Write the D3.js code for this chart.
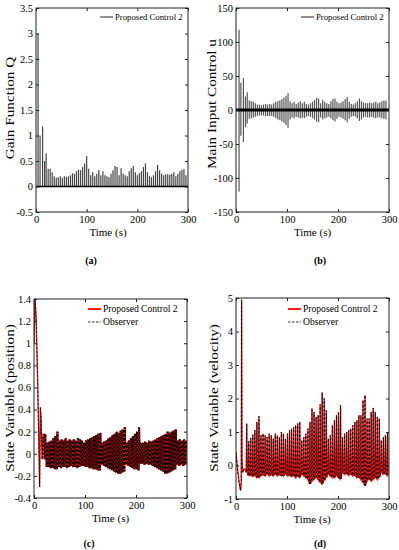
<!DOCTYPE html>
<html><head><meta charset="utf-8">
<script src="https://cdn.jsdelivr.net/npm/d3@7"></script>
<style>
body{margin:0;background:#fff}
text{font-family:"Liberation Serif","DejaVu Serif",serif;fill:#000}
</style>
</head><body>
<svg id="chart" width="399" height="550"></svg>
<script>
// ---------- data ----------
const xTicks = [0, 100, 200, 300];
const yTicksA = [-0.5, 0, 0.5, 1, 1.5, 2, 2.5, 3, 3.5];
const yTicksB = [-150, -100, -50, 0, 50, 100, 150];
const yTicksC = [-0.4, -0.2, 0, 0.2, 0.4, 0.6, 0.8, 1, 1.2, 1.4];
const yTicksD = [-1, 0, 1, 2, 3, 4, 5];

// (a) gain function Q: pulse peaks
const qEarlyT = [4, 8, 13, 17, 20];
const qEarlyV = [3.0, 1.0, 1.18, 0.5, 0.65];
const qStart = 24, qStep = 4;
const qVals = [0.35,0.35,0.28,0.2,0.17,0.18,0.2,0.17,0.2,0.19,
  0.2,0.22,0.26,0.25,0.3,0.33,0.32,0.38,0.45,0.6,
  0.35,0.22,0.28,0.2,0.25,0.32,0.22,0.3,0.22,0.2,
  0.18,0.25,0.32,0.4,0.38,0.22,0.36,0.25,0.22,0.2,
  0.3,0.36,0.4,0.28,0.22,0.26,0.3,0.38,0.45,0.28,
  0.2,0.18,0.22,0.3,0.42,0.32,0.25,0.22,0.24,0.24,
  0.23,0.25,0.28,0.2,0.25,0.3,0.33,0.34,0.22];

// (b) main input control u: pulse upper / lower extremes
const uEarlyT = [6, 9.5, 14.5, 18.5, 22];
const uEarlyUp = [118, 40, 47, 20, 26];
const uEarlyLo = [-120, -38, -47, -25, -20];
const uStart = 26, uStep = 4;
const uUp = [14,13,12,10,8,8,7,8,9,8, 9,8,10,12,13,14,16,18,21,25,
  13,10,12,9,11,13,10,12,9,8, 10,12,15,18,17,10,15,12,10,9,
  13,16,17,12,10,11,13,16,19,12, 9,8,10,13,17,13,11,10,10,11,
  10,11,12,10,11,13,14,14];
const uLo = [-13,-12,-11,-10,-9,-8,-8,-8,-9,-9, -9,-9,-10,-12,-14,-15,-17,-19,-22,-26,
  -14,-11,-12,-10,-11,-12,-11,-12,-10,-9, -10,-12,-14,-17,-18,-11,-14,-12,-11,-10,
  -12,-15,-17,-13,-10,-11,-13,-15,-18,-13, -10,-9,-10,-12,-16,-14,-11,-10,-11,-11,
  -10,-11,-12,-11,-11,-12,-13,-14];

// (c) position: early transient + oscillation envelope (upper / lower)
const cEarlyT = [0, 2, 4, 7, 9.5, 11, 12.5, 14, 16, 18];
const cEarlyV = [1.0, 1.4, 1.25, 0.7, 0.1, -0.3, 0.42, 0.3, -0.05, 0.18];
const cStart = 20, cStep = 4;
const cUp = [0.18,0.10,0.11,0.12,0.14,0.16,0.2,
  0.12,0.13,0.12,0.14,0.12,0.13,0.12,0.13,0.12,0.14,0.13,0.12,
  0.1,0.12,0.13,0.14,0.15,0.16,0.17,0.18,0.19,
  0.1,0.11,0.12,0.14,0.15,0.17,0.18,0.2,0.19,0.21,0.22,0.24,
  0.1,0.12,0.14,0.16,0.18,0.2,0.24,
  0.1,0.1,0.11,0.1,0.12,0.11,0.12,0.13,
  0.14,0.15,0.16,0.17,0.18,0.2,0.19,0.2,0.21,0.22,
  0.12,0.13,0.12,0.13,0.12];
const cLo = [-0.05,-0.12,-0.12,-0.13,-0.13,-0.14,-0.14,
  -0.12,-0.13,-0.12,-0.12,-0.13,-0.12,-0.11,-0.12,-0.12,-0.13,-0.12,-0.11,
  -0.11,-0.12,-0.12,-0.13,-0.13,-0.14,-0.14,-0.15,-0.15,
  -0.1,-0.11,-0.12,-0.13,-0.14,-0.15,-0.16,-0.17,-0.18,-0.18,-0.17,-0.16,
  -0.1,-0.11,-0.12,-0.13,-0.14,-0.14,-0.15,
  -0.09,-0.09,-0.1,-0.09,-0.1,-0.1,-0.11,-0.12,
  -0.13,-0.14,-0.15,-0.16,-0.18,-0.18,-0.17,-0.16,-0.15,-0.14,
  -0.1,-0.11,-0.1,-0.11,-0.1];

// (d) velocity: early transient + spike peaks / troughs
const dEarlyT = [0, 3, 6, 9, 10.3, 11, 11.7, 13, 16, 19];
const dEarlyV = [0.4, -0.1, -0.5, -0.75, -0.5, 4.95, 0.2, -0.2, -0.1, -0.15];
const dStart = 20, dStep = 4;
const dPeak = [1.25,0.72,0.82,0.92,1.05,1.3,1.47,
  0.9,0.95,0.9,0.85,0.95,0.9,0.8,0.95,0.9,0.85,1.0,0.95,0.8,
  0.95,1.05,1.1,1.15,1.2,1.25,1.3,
  0.75,0.85,0.95,1.1,1.3,
  1.7,1.6,1.45,1.5,1.82,2.18,2.0,1.65,
  0.8,0.9,1.2,1.35,1.5,1.6,1.8,
  0.85,0.95,1.0,1.05,1.1,1.2,1.3,1.35,
  1.5,1.5,1.95,2.1,1.4,1.4,1.6,1.72,1.6,1.45,1.4,
  0.75,0.85,0.9,1.0];
const dLow = [-0.2,-0.3,-0.3,-0.32,-0.3,-0.35,-0.35,
  -0.3,-0.28,-0.3,-0.25,-0.3,-0.28,-0.3,-0.25,-0.3,-0.28,-0.3,-0.3,-0.25,
  -0.3,-0.3,-0.32,-0.3,-0.35,-0.32,-0.35,
  -0.25,-0.3,-0.35,-0.4,-0.55,
  -0.45,-0.4,-0.35,-0.4,-0.5,-0.55,-0.45,-0.35,
  -0.25,-0.3,-0.35,-0.35,-0.3,-0.35,-0.4,
  -0.2,-0.25,-0.25,-0.28,-0.25,-0.3,-0.3,-0.35,
  -0.35,-0.4,-0.5,-0.6,-0.45,-0.4,-0.45,-0.4,-0.35,-0.4,-0.35,
  -0.2,-0.25,-0.25,-0.3];

const legendMain = "Proposed Control 2";
const legendObs = "Observer";

// ---------- drawing ----------
const FONT = '"Liberation Serif","DejaVu Serif",serif';
const svg = d3.select("#chart");
svg.append("rect").attr("width",399).attr("height",550).attr("fill","#fff");

function panel(cfg) {
  const x = d3.scaleLinear().domain([0,300]).range([cfg.x0, cfg.x1]);
  const y = d3.scaleLinear().domain(cfg.yDom).range([cfg.y1, cfg.y0]);
  const g = svg.append("g").attr("font-family", FONT);
  const clipId = "clip" + cfg.id;
  svg.append("clipPath").attr("id", clipId).append("rect")
    .attr("x", cfg.x0).attr("y", cfg.y0).attr("width", cfg.x1-cfg.x0).attr("height", cfg.y1-cfg.y0);
  const plot = g.append("g").attr("clip-path", `url(#${clipId})`);
  cfg.draw(plot, x, y);

  const fmt = d => String(d);
  const ax = (gen, tr) => {
    const a = g.append("g").attr("transform", tr).call(gen);
    a.attr("font-family", FONT);
    a.select(".domain").remove();
    a.selectAll(".tick line").attr("stroke", "#222");
    a.selectAll("text").style("font-family", FONT).style("font-size","10.5px").attr("fill","#000");
    return a;
  };
  ax(d3.axisBottom(x).tickValues(xTicks).tickFormat(fmt).tickSize(-3).tickPadding(4), `translate(0,${cfg.y1})`);
  ax(d3.axisTop(x).tickValues(xTicks).tickFormat("").tickSize(-3), `translate(0,${cfg.y0})`);
  ax(d3.axisLeft(y).tickValues(cfg.yTicks).tickFormat(fmt).tickSize(-3).tickPadding(3), `translate(${cfg.x0},0)`);
  ax(d3.axisRight(y).tickValues(cfg.yTicks).tickFormat("").tickSize(-3), `translate(${cfg.x1},0)`);
  g.append("rect").attr("x",cfg.x0).attr("y",cfg.y0).attr("width",cfg.x1-cfg.x0).attr("height",cfg.y1-cfg.y0)
    .attr("fill","none").attr("stroke","#222").attr("stroke-width",1);

  // labels
  g.append("text").attr("x", cfg.xlx).attr("y", cfg.y1+24).attr("text-anchor","middle")
    .style("font-family", FONT).style("font-size","11px").text("Time (s)");
  g.append("text").attr("transform", `translate(${cfg.ylx},${cfg.ylc}) rotate(-90) scale(1.27,1)`)
    .attr("text-anchor","middle").style("font-family", FONT).style("font-size","12px").text(cfg.ylabel);
  g.append("text").attr("x", cfg.tagx).attr("y", cfg.tagy).attr("text-anchor","middle")
    .style("font-family", FONT).style("font-size","10px").style("font-weight","bold").text(cfg.tag);
  cfg.legend(g);
}

const line = (x,y) => d3.line().x(d=>x(d[0])).y(d=>y(d[1]));

// (a)
panel({id:"a", x0:36, x1:188, y0:8, y1:212, yDom:[-0.5,3.5], yTicks:yTicksA,
  ylabel:"Gain Function Q", ylx:14, ylc:108, xlx:108, tag:"(a)", tagx:91, tagy:264,
  draw:(p,x,y)=>{
    const pts = qEarlyT.map((t,i)=>[t,qEarlyV[i]]).concat(qVals.map((v,i)=>[qStart+i*qStep, v]));
    p.selectAll("line.q").data(pts).enter().append("line")
      .attr("x1",d=>x(d[0])).attr("x2",d=>x(d[0])).attr("y1",y(0)).attr("y2",d=>y(d[1]))
      .attr("stroke","#444").attr("stroke-width",1.2);
    p.append("line").attr("x1",x(0)).attr("x2",x(300)).attr("y1",y(0)).attr("y2",y(0))
      .attr("stroke","#000").attr("stroke-width",1.5);
  },
  legend:g=>{
    g.append("line").attr("x1",100).attr("x2",113).attr("y1",17).attr("y2",17).attr("stroke","#222").attr("stroke-width",1);
    g.append("text").attr("x",115).attr("y",20).style("font-family", FONT).style("font-size","8.7px").text(legendMain);
  }});

// (b)
panel({id:"b", x0:236, x1:389, y0:8, y1:212, yDom:[-150,150], yTicks:yTicksB,
  ylabel:"Main Input Control u", ylx:216, ylc:104, xlx:312.5, tag:"(b)", tagx:320, tagy:264,
  draw:(p,x,y)=>{
    const pts = uEarlyT.map((t,i)=>[t,uEarlyUp[i],uEarlyLo[i]])
      .concat(uUp.map((v,i)=>[uStart+i*uStep, v, uLo[i]]));
    p.selectAll("line.u").data(pts).enter().append("line")
      .attr("x1",d=>x(d[0])).attr("x2",d=>x(d[0])).attr("y1",d=>y(d[2])).attr("y2",d=>y(d[1]))
      .attr("stroke","#555").attr("stroke-width",1.2);
    p.append("line").attr("x1",x(0)).attr("x2",x(300)).attr("y1",y(0)).attr("y2",y(0))
      .attr("stroke","#000").attr("stroke-width",3);
  },
  legend:g=>{
    g.append("line").attr("x1",301).attr("x2",314).attr("y1",17).attr("y2",17).attr("stroke","#222").attr("stroke-width",1);
    g.append("text").attr("x",316).attr("y",20).style("font-family", FONT).style("font-size","8.7px").text(legendMain);
  }});

function drawTwin(p, x, y, pts) {
  p.append("path").datum(pts).attr("d", line(x,y)).attr("fill","none")
    .attr("stroke","#ff1a1a").attr("stroke-width",1.3);
  p.append("path").datum(pts).attr("d", line(x,y)).attr("fill","none")
    .attr("stroke","#000").attr("stroke-width",0.8).attr("stroke-dasharray","2.5,1.5");
}
function legend2(g, lx, ty) {
  g.append("line").attr("x1",lx).attr("x2",lx+13).attr("y1",ty).attr("y2",ty).attr("stroke","#ff1a1a").attr("stroke-width",2);
  g.append("text").attr("x",lx+15).attr("y",ty+3.3).style("font-family", FONT).style("font-size","9.6px").text(legendMain);
  g.append("line").attr("x1",lx).attr("x2",lx+13).attr("y1",ty+13).attr("y2",ty+13).attr("stroke","#000").attr("stroke-width",0.8).attr("stroke-dasharray","2.5,1.5");
  g.append("text").attr("x",lx+15).attr("y",ty+16.3).style("font-family", FONT).style("font-size","9.6px").text(legendObs);
}

// (c)
panel({id:"c", x0:34, x1:187, y0:299, y1:498, yDom:[-0.4,1.4], yTicks:yTicksC,
  ylabel:"State Variable (position)", ylx:14, ylc:398, xlx:110.5, tag:"(c)", tagx:89, tagy:547,
  draw:(p,x,y)=>{
    const pts = cEarlyT.map((t,i)=>[t,cEarlyV[i]]);
    cUp.forEach((v,i)=>{ const t=cStart+i*cStep;
      pts.push([t,cLo[i]],[t+1,v],[t+2,cLo[i]],[t+3,v]); });
    drawTwin(p,x,y,pts);
  },
  legend:g=>legend2(g, 88, 309)});

// (d)
panel({id:"d", x0:236, x1:389, y0:298, y1:499, yDom:[-1,5], yTicks:yTicksD,
  ylabel:"State Variable (velocity)", ylx:218, ylc:398, xlx:312, tag:"(d)", tagx:320, tagy:547,
  draw:(p,x,y)=>{
    const pts = dEarlyT.map((t,i)=>[t,dEarlyV[i]]);
    dPeak.forEach((v,i)=>{ const t=dStart+i*dStep;
      pts.push([t,dLow[i]],[t+1,v],[t+2,dLow[i]]); });
    drawTwin(p,x,y,pts);
  },
  legend:g=>legend2(g, 288, 309)});
</script>
</body></html>
